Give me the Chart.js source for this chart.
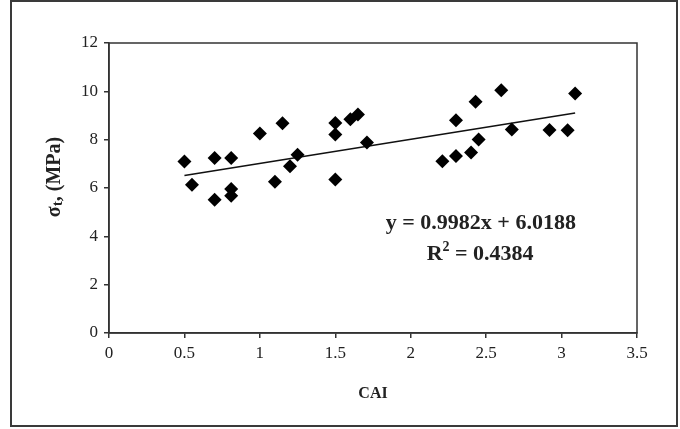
<!DOCTYPE html>
<html>
<head>
<meta charset="utf-8">
<title>CAI vs tensile strength</title>
<script src="https://cdn.jsdelivr.net/npm/chart.js@4.4.0/dist/chart.umd.min.js"></script>
<style>
  html, body { margin: 0; padding: 0; background: #fff; }
  #chart { display: block; }
</style>
</head>
<body>
<canvas id="chart" width="680" height="429"></canvas>
<script>
// values
const caiValues = [0.50, 0.55, 0.70, 0.70, 0.81, 0.81, 0.81, 1.00, 1.10, 1.15,
                   1.20, 1.25, 1.50, 1.50, 1.50, 1.60, 1.65, 1.71, 2.21, 2.30,
                   2.30, 2.40, 2.45, 2.43, 2.60, 2.67, 2.92, 3.04, 3.09];
const sigmaValues = [7.10, 6.13, 7.24, 5.51, 7.24, 5.96, 5.68, 8.26, 6.26, 8.68,
                     6.90, 7.38, 8.69, 8.21, 6.35, 8.85, 9.04, 7.88, 7.11, 7.32,
                     8.80, 7.47, 8.01, 9.57, 10.04, 8.42, 8.40, 8.39, 9.91];
// linear trend line ends
const trendX = [0.50, 3.09];
const trendY = [6.52, 9.10];
const equationText = 'y = 0.9982x + 6.0188';
const r2Value = '0.4384';
const yTitle = ['σ', 't', ', (MPa)'];

const serif = "'Liberation Serif', 'Times New Roman', serif";

const scatterPoints = caiValues.map((x, i) => ({ x: x, y: sigmaValues[i] }));
const trendPoints = trendX.map((x, i) => ({ x: x, y: trendY[i] }));

// frame around the whole picture and around the plot area, y title, equation
const framePlugin = {
    id: 'frame',
    afterDraw(chart) {
        const c = chart.ctx;
        const a = chart.chartArea;
        c.save();
        c.strokeStyle = '#3a3a3a';
        c.lineWidth = 2;
        c.strokeRect(11, 1, 666, 425);
        c.lineWidth = 1.5;
        c.strokeStyle = '#333';
        c.strokeRect(a.left, a.top, a.right - a.left, a.bottom - a.top);

        c.fillStyle = '#222';
        c.textBaseline = 'middle';

        // y axis title with subscript t
        const big = 'bold 20px ' + serif, small = 'bold 15px ' + serif;
        c.font = big;
        const w0 = c.measureText(yTitle[0]).width;
        const w2 = c.measureText(yTitle[2]).width;
        c.font = small;
        const w1 = c.measureText(yTitle[1]).width;
        c.translate(55, 177);
        c.rotate(-Math.PI / 2);
        let px = -(w0 + w1 + w2) / 2;
        c.textAlign = 'left';
        c.font = big;
        c.fillText(yTitle[0], px, 0);
        px += w0;
        c.font = small;
        c.fillText(yTitle[1], px, 3);
        px += w1;
        c.font = big;
        c.fillText(yTitle[2], px, 0);
        c.setTransform(1, 0, 0, 1, 0, 0);

        // regression equation
        const xs = chart.scales.x, ys = chart.scales.y;
        c.font = 'bold 22px ' + serif;
        c.textAlign = 'center';
        c.fillText(equationText, xs.getPixelForValue(2.465), ys.getPixelForValue(4.55));

        const r = 'R', rest = ' = ' + r2Value;
        const wr = c.measureText(r).width, wrest = c.measureText(rest).width;
        c.font = 'bold 14px ' + serif;
        const wsup = c.measureText('2').width;
        const cy = ys.getPixelForValue(3.25);
        let sx = xs.getPixelForValue(2.46) - (wr + wsup + wrest) / 2;
        c.textAlign = 'left';
        c.font = 'bold 22px ' + serif;
        c.fillText(r, sx, cy);
        sx += wr;
        c.font = 'bold 14px ' + serif;
        c.fillText('2', sx, cy - 7);
        sx += wsup;
        c.font = 'bold 22px ' + serif;
        c.fillText(rest, sx, cy);
        c.restore();
    }
};

new Chart(document.getElementById('chart').getContext('2d'), {
    type: 'scatter',
    data: {
        datasets: [
            {
                label: 'data',
                data: scatterPoints,
                pointStyle: 'rectRot',
                pointRadius: 7,
                pointBackgroundColor: '#000',
                pointBorderColor: '#000',
                pointBorderWidth: 0
            },
            {
                label: 'trend',
                type: 'line',
                data: trendPoints,
                borderColor: '#111',
                borderWidth: 1.5,
                pointRadius: 0,
                fill: false
            }
        ]
    },
    options: {
        responsive: false,
        animation: false,
        layout: { padding: { top: 43, right: 43, bottom: 0, left: 0 } },
        plugins: {
            legend: { display: false },
            tooltip: { enabled: false }
        },
        scales: {
            x: {
                type: 'linear',
                min: 0,
                max: 3.5,
                ticks: {
                    stepSize: 0.5,
                    color: '#222',
                    padding: 5,
                    font: { family: serif, size: 17 },
                    callback: v => String(v)
                },
                grid: { drawOnChartArea: false, drawTicks: true, tickLength: 5, color: '#333', lineWidth: 1.5 },
                border: { display: true, color: '#333', width: 1.5 },
                title: {
                    display: true,
                    text: 'CAI',
                    color: '#222',
                    font: { family: serif, size: 16, weight: 'bold' },
                    padding: { top: 0, bottom: 26 }
                },
                afterFit(scale) { scale.height = 96; }
            },
            y: {
                min: 0,
                max: 12,
                ticks: { stepSize: 2, color: '#222', padding: 6, font: { family: serif, size: 17 } },
                grid: { drawOnChartArea: false, drawTicks: true, tickLength: 5, color: '#333', lineWidth: 1.5 },
                border: { display: true, color: '#333', width: 1.5 },
                afterFit(scale) { scale.width = 109; }
            }
        }
    },
    plugins: [framePlugin]
});
</script>
</body>
</html>
